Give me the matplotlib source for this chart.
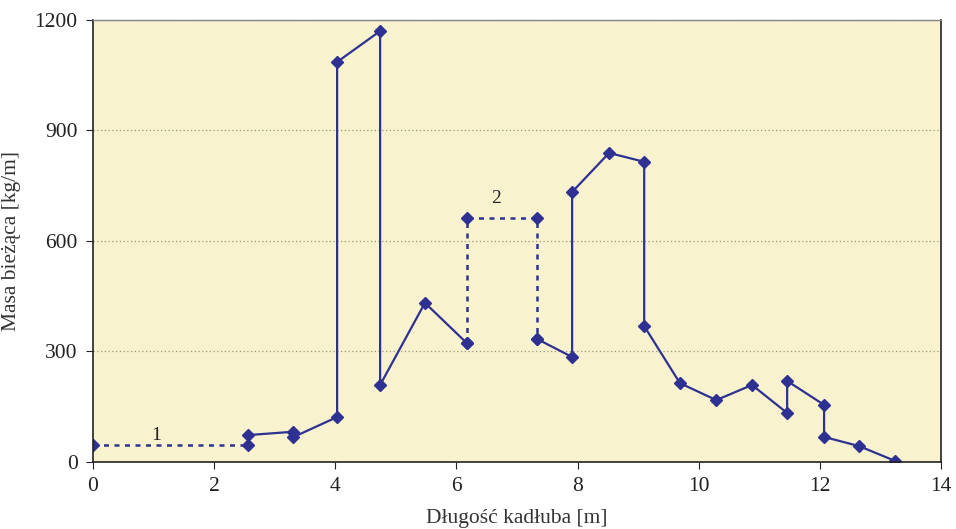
import numpy as np
import matplotlib.pyplot as plt

plt.rcParams['font.family'] = ['Liberation Serif', 'DejaVu Serif']

# series 1 - dashed (start of hull)
x1 = [0.0, 2.56]
y1 = [46, 46]

# solid line, part A
xa = [2.56, 3.30, 3.30, 4.03, 4.03, 4.74, 4.74, 5.48, 6.17]
ya = [73, 82, 67, 122, 1086, 1170, 209, 432, 323]

# series 2 - dotted
x2 = [6.17, 6.17, 7.33, 7.33]
y2 = [323, 662, 662, 334]

# solid line, part B
xb = [7.33, 7.91, 7.91, 8.52, 9.10, 9.10, 9.69, 10.29, 10.88, 11.46, 11.46, 12.07, 12.07, 12.65, 13.24]
yb = [334, 285, 733, 839, 815, 369, 214, 168, 209, 133, 220, 155, 68, 43, 3]

col = '#2E3192'

fig = plt.figure(figsize=(9.56, 5.29), dpi=100)
ax = fig.add_axes([0.0973, 0.1267, 0.887, 0.8355])
ax.set_facecolor('#F8F2CF')

ax.plot(x1, y1, color=col, lw=1.8, ls=(0, (2, 2.2)), marker='D', ms=6)
ax.plot(xa, ya, color=col, lw=1.6, marker='D', ms=6)
ax.plot(x2, y2, color=col, lw=1.8, ls=(0, (2, 2.2)), marker='D', ms=6)
ax.plot(xb, yb, color=col, lw=1.6, marker='D', ms=6)

ax.text(1.05, 73, '1', fontsize=14, ha='center', va='center', color='#222222')
ax.text(6.65, 715, '2', fontsize=14, ha='center', va='center', color='#222222')

ax.set_xlim(0, 14)
ax.set_ylim(0, 1200)
ax.set_xticks(np.arange(0, 15, 2))
ax.set_yticks([0, 300, 600, 900, 1200])
ax.yaxis.grid(True, ls=(0, (1, 2)), color='#9A9680', lw=0.9)
ax.set_axisbelow(True)

for s in ['left', 'bottom', 'right']:
    ax.spines[s].set_color('#222222')
    ax.spines[s].set_linewidth(1.2)
ax.spines['top'].set_color('#888888')
ax.spines['top'].set_linewidth(1.0)

ax.tick_params(direction='out', length=5, labelsize=15.5, colors='#222222', pad=6)
ax.set_xlabel('Długość kadłuba [m]', fontsize=15.5, labelpad=9, color='#333333')
ax.set_ylabel('Masa bieżąca [kg/m]', fontsize=15.5, labelpad=10, color='#333333')

fig.savefig('out.png', dpi=100)
